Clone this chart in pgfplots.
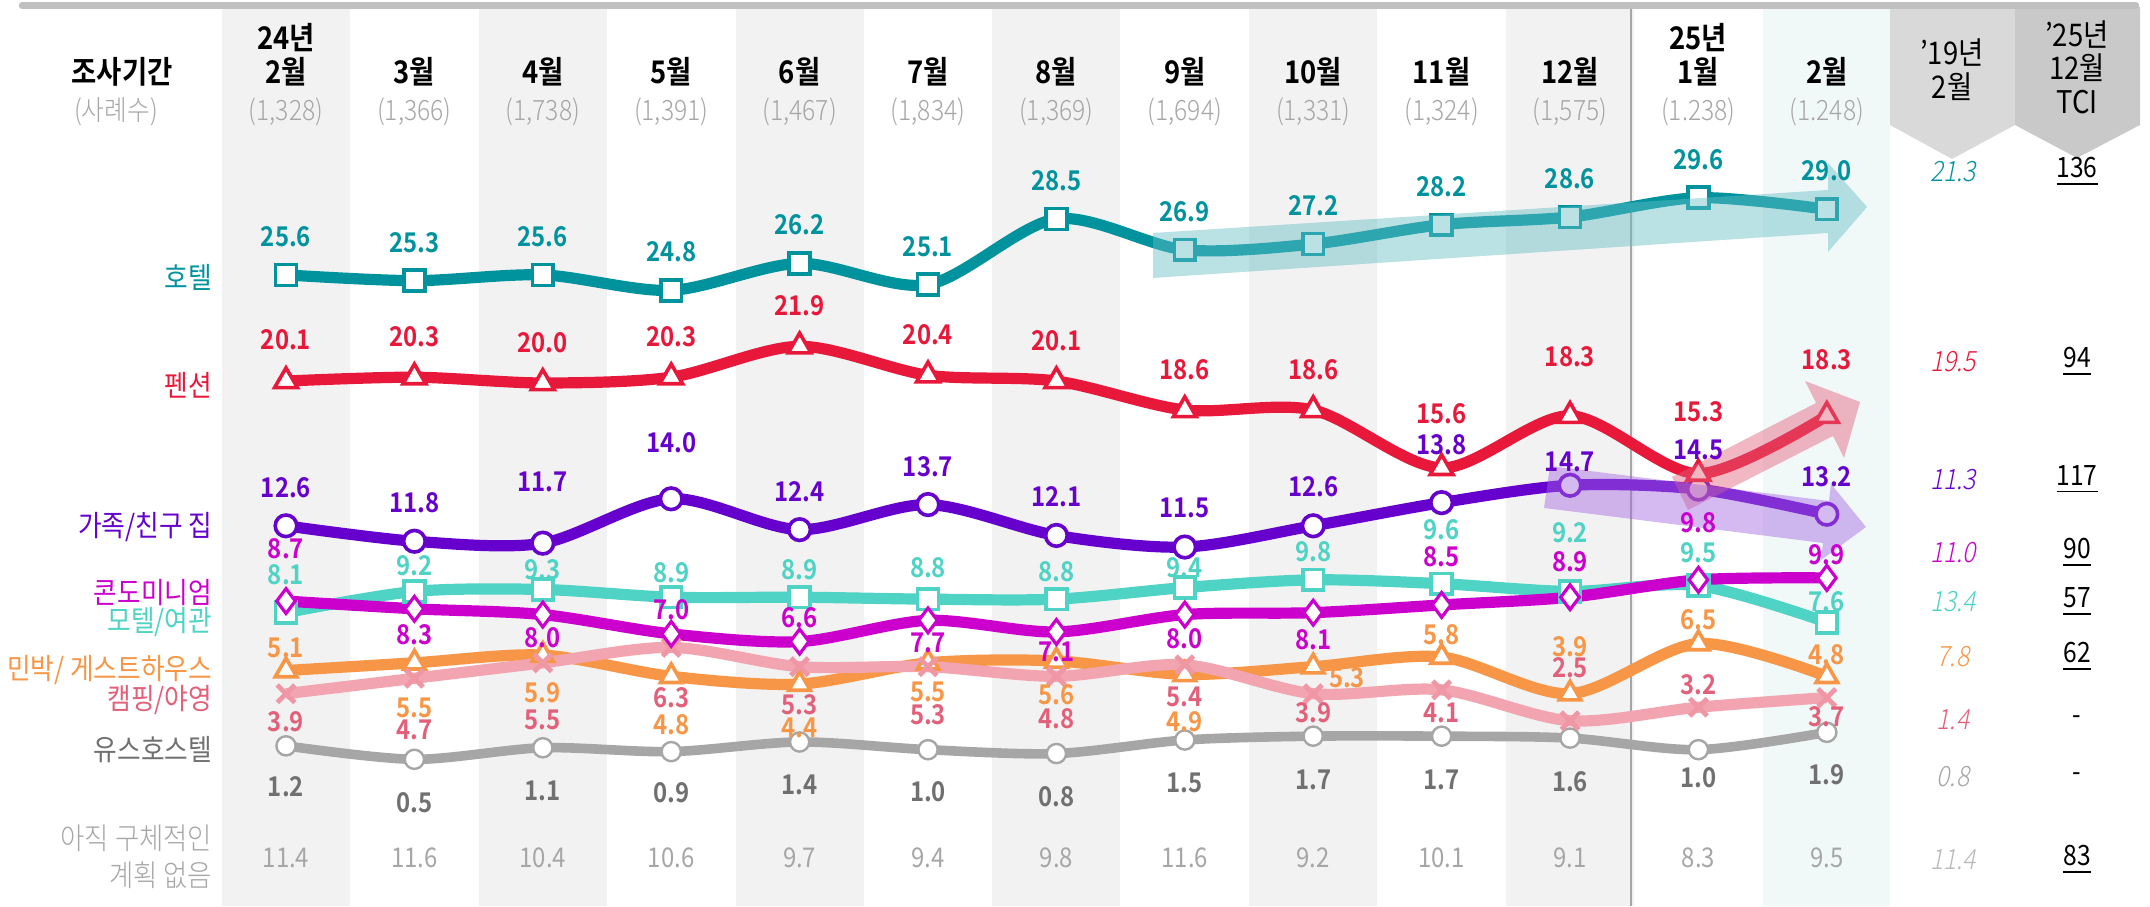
\documentclass[border=0pt]{standalone}
\usepackage{pgfplots}
\pgfplotsset{compat=1.18}
\usepackage{pgfplotstable}
\usepackage{fontspec}
\setmainfont{Noto Sans CJK KR}[FakeStretch=0.88, BoldFont={Noto Sans CJK KR Bold}]
\newfontfamily\itfont{Noto Sans CJK KR}[FakeStretch=0.88, FakeSlant=0.2]
\IfFontExistsTF{Noto Sans CJK KR Light}{%
  \newfontfamily\lightfont{Noto Sans CJK KR Light}[FakeStretch=0.88]%
  \newfontfamily\itlightfont{Noto Sans CJK KR Light}[FakeStretch=0.88, FakeSlant=0.2]}{%
  \IfFontExistsTF{Noto Sans CJK KR DemiLight}{%
    \newfontfamily\lightfont{Noto Sans CJK KR DemiLight}[FakeStretch=0.88]%
    \newfontfamily\itlightfont{Noto Sans CJK KR DemiLight}[FakeStretch=0.88, FakeSlant=0.2]}{%
    \newfontfamily\lightfont{Noto Sans CJK KR}[FakeStretch=0.88]%
    \newfontfamily\itlightfont{Noto Sans CJK KR}[FakeStretch=0.88, FakeSlant=0.2]}}
\definecolor{cHotel}{HTML}{00939E}
\definecolor{cPension}{HTML}{E8183A}
\definecolor{cFamily}{HTML}{6600CC}
\definecolor{cCondo}{HTML}{CC00CC}
\definecolor{cMotel}{HTML}{4FD3C4}
\definecolor{cMinbak}{HTML}{F79646}
\definecolor{cCampL}{HTML}{F2A5B0}
\definecolor{cCampT}{HTML}{E2607A}
\definecolor{cYouthL}{HTML}{A6A6A6}
\definecolor{cYouthT}{HTML}{707070}
\definecolor{cNone}{HTML}{A6A6A6}
\definecolor{cBand}{HTML}{F2F2F2}
\definecolor{cMint}{HTML}{F1F8F8}
\definecolor{cBar}{HTML}{C0C0C0}
\definecolor{cPentA}{HTML}{D9D9D9}
\definecolor{cPentB}{HTML}{C9C9C9}

\pgfplotstableread{
i hotel pension family condo motel minbak camping youth
0 25.6 20.1 12.6 8.7 8.1 5.1 3.9 1.2
1 25.3 20.3 11.8 8.3 9.2 5.5 4.7 0.5
2 25.6 20.0 11.7 8.0 9.3 5.9 5.5 1.1
3 24.8 20.3 14.0 7.0 8.9 4.8 6.3 0.9
4 26.2 21.9 12.4 6.6 8.9 4.4 5.3 1.4
5 25.1 20.4 13.7 7.7 8.8 5.5 5.3 1.0
6 28.5 20.1 12.1 7.1 8.8 5.6 4.8 0.8
7 26.9 18.6 11.5 8.0 9.4 4.9 5.4 1.5
8 27.2 18.6 12.6 8.1 9.8 5.3 3.9 1.7
9 28.2 15.6 13.8 8.5 9.6 5.8 4.1 1.7
10 28.6 18.3 14.7 8.9 9.2 3.9 2.5 1.6
11 29.6 15.3 14.5 9.8 9.5 6.5 3.2 1.0
12 29.0 18.3 13.2 9.9 7.6 4.8 3.7 1.9
}\data

\newcommand\cx[1]{286+128.4*#1}
\newcommand\numfont{\fontsize{6.8}{7}\selectfont\bfseries}

\begin{document}
\begin{tikzpicture}
\begin{scope}[shift={(0,226.5pt)},x=0.25pt,y=-0.25pt]
\fill[white] (0,0) rectangle (2150,906);
\foreach \i in {0,2,4,6,8,10} \fill[cBand] ({\cx{\i}-64},9) rectangle ({\cx{\i}+64},906);
\fill[cMint] ({\cx{12}-64},9) rectangle (1890,906);
\draw[cYouthL, line width=0.5pt] (1631,9) -- (1631,906);
\fill[cPentA] (1890,7) -- (2015,7) -- (2015,125) -- (1952,159) -- (1890,125) -- cycle;
\fill[cPentB] (2015,7) -- (2140,7) -- (2140,125) -- (2077,158) -- (2015,125) -- cycle;
\draw[cBar, line width=1.6pt, line cap=round] (22,5.5) -- (2136,5.5);
\end{scope}

\begin{axis}[at={(0,0)}, anchor=south west, width=537.5pt, height=226.5pt, scale only axis, hide axis,
  xmin=-2.22741, xmax=14.51713, ymin=-7.09845, ymax=39.84456, clip=false]
\addplot[cYouthL, line width=2.4pt, smooth, mark=*, mark size=2.4pt, mark options={fill=white, draw=cYouthL, line width=0.6pt}] table[x=i,y=youth]{\data};
\addplot[cMinbak, line width=2.8pt, smooth, mark=triangle*, mark size=3.1pt, mark options={fill=white, draw=cMinbak, line width=0.9pt}] table[x=i,y=minbak]{\data};
\addplot[cCampL, line width=2.8pt, smooth, mark=x, mark size=3.1pt, mark options={draw=cCampL!80!cCampT, line width=1.2pt}] table[x=i,y=camping]{\data};
\addplot[cMotel, line width=2.8pt, smooth, mark=square*, mark size=2.6pt, mark options={fill=white, draw=cMotel, line width=0.9pt}] table[x=i,y=motel]{\data};
\addplot[cCondo, line width=2.8pt, smooth, mark=diamond*, mark size=3.1pt, mark options={fill=white, draw=cCondo, line width=0.8pt}] table[x=i,y=condo]{\data};
\addplot[cFamily, line width=2.8pt, smooth, mark=*, mark size=2.7pt, mark options={fill=white, draw=cFamily, line width=0.9pt}] table[x=i,y=family]{\data};
\addplot[cPension, line width=2.8pt, smooth, mark=triangle*, mark size=3.3pt, mark options={fill=white, draw=cPension, line width=0.9pt}] table[x=i,y=pension]{\data};
\addplot[cHotel, line width=2.8pt, smooth, mark=square*, mark size=2.6pt, mark options={fill=white, draw=cHotel, line width=0.9pt}] table[x=i,y=hotel]{\data};
\end{axis}

\begin{scope}[shift={(0,226.5pt)},x=0.25pt,y=-0.25pt, every node/.style={inner sep=0pt}]
% trend arrows
\fill[color=cHotel!60!white, opacity=0.45] (1153,233) -- (1828,190) -- (1828,163) -- (1867,207) -- (1828,252) -- (1828,233) -- (1153,278) -- cycle;
\fill[color=cCampT, opacity=0.45] (1672,477) -- (1816,403) -- (1805,381) -- (1860,402) -- (1844,458) -- (1833,436) -- (1688,510) -- cycle;
\fill[color=cFamily!60!white, opacity=0.45] (1550,466) -- (1829,501) -- (1831,484) -- (1866,527) -- (1821,560) -- (1823,543) -- (1544,508) -- cycle;

% header
\node[font=\fontsize{7.8}{8}\selectfont\bfseries] at (122,72) {조사기간};
\node[font=\lightfont\fontsize{7}{8}\selectfont, text=cNone] at (116,112) {(사례수)};
\begin{scope}[every node/.append style={font=\fontsize{7.8}{8}\selectfont\bfseries}]
\node at ({\cx{0}},38) {24년};
\node at ({\cx{0}},72) {2월};
\node at ({\cx{1}},72) {3월};
\node at ({\cx{2}},72) {4월};
\node at ({\cx{3}},72) {5월};
\node at ({\cx{4}},72) {6월};
\node at ({\cx{5}},72) {7월};
\node at ({\cx{6}},72) {8월};
\node at ({\cx{7}},72) {9월};
\node at ({\cx{8}},72) {10월};
\node at ({\cx{9}},72) {11월};
\node at ({\cx{10}},72) {12월};
\node at ({\cx{11}},38) {25년};
\node at ({\cx{11}},72) {1월};
\node at ({\cx{12}},72) {2월};
\end{scope}
\begin{scope}[every node/.append style={font=\lightfont\fontsize{7}{8}\selectfont, text=cNone}]
\node at ({\cx{0}},112) {(1,328)};
\node at ({\cx{1}},112) {(1,366)};
\node at ({\cx{2}},112) {(1,738)};
\node at ({\cx{3}},112) {(1,391)};
\node at ({\cx{4}},112) {(1,467)};
\node at ({\cx{5}},112) {(1,834)};
\node at ({\cx{6}},112) {(1,369)};
\node at ({\cx{7}},112) {(1,694)};
\node at ({\cx{8}},112) {(1,331)};
\node at ({\cx{9}},112) {(1,324)};
\node at ({\cx{10}},112) {(1,575)};
\node at ({\cx{11}},112) {(1.238)};
\node at ({\cx{12}},112) {(1.248)};
\end{scope}
\begin{scope}[every node/.append style={font=\fontsize{7.8}{8}\selectfont}]
\node at (1952,53) {’19년};
\node at (1952,87) {2월};
\node at (2077,35) {’25년};
\node at (2077,68) {12월};
\node at (2077,102) {TCI};
\end{scope}

% left labels
\begin{scope}[every node/.append style={font=\fontsize{7.3}{8}\selectfont, anchor=east}]
\node[text=cHotel] at (213,277) {호텔};
\node[text=cPension] at (213,385) {펜션};
\node[text=cFamily] at (213,527) {가족/친구 집};
\node[text=cCondo] at (213,593) {콘도미니엄};
\node[text=cMotel] at (213,622) {모텔/여관};
\node[text=cMinbak] at (213,670) {민박/ 게스트하우스};
\node[text=cCampT] at (213,700) {캠핑/야영};
\node[text=cYouthT] at (213,750) {유스호스텔};
\node[text=cNone, font=\lightfont\fontsize{7.5}{8}\selectfont] at (213,838) {아직 구체적인};
\node[text=cNone, font=\lightfont\fontsize{7.5}{8}\selectfont] at (213,875) {계획 없음};
\end{scope}

% data labels
\foreach \i/\y/\lbl in {0/237/25.6, 1/243/25.3, 2/237/25.6, 3/252/24.8, 4/225/26.2, 5/247/25.1, 6/181/28.5, 7/212/26.9, 8/206/27.2, 9/187/28.2, 10/179/28.6, 11/160/29.6, 12/171/29.0}
  \node[font=\numfont, text=cHotel] at ({\cx{\i}},\y) {\lbl};
\foreach \i/\y/\lbl in {0/340/20.1, 1/337/20.3, 2/343/20.0, 3/337/20.3, 4/306/21.9, 5/335/20.4, 6/341/20.1, 7/370/18.6, 8/370/18.6, 9/414/15.6, 10/357/18.3, 11/412/15.3, 12/360/18.3}
  \node[font=\numfont, text=cPension] at ({\cx{\i}},\y) {\lbl};
\foreach \i/\y/\lbl in {0/488/12.6, 1/503/11.8, 2/482/11.7, 3/443/14.0, 4/492/12.4, 5/467/13.7, 6/497/12.1, 7/508/11.5, 8/487/12.6, 9/445/13.8, 10/462/14.7, 11/450/14.5, 12/477/13.2}
  \node[font=\numfont, text=cFamily] at ({\cx{\i}},\y) {\lbl};
\foreach \i/\y/\lbl in {0/549/8.7, 1/635/8.3, 2/638/8.0, 3/610/7.0, 4/618/6.6, 5/643/7.7, 6/652/7.1, 7/639/8.0, 8/640/8.1, 9/557/8.5, 10/562/8.9, 11/523/9.8, 12/555/9.9}
  \node[font=\numfont, text=cCondo] at ({\cx{\i}},\y) {\lbl};
\foreach \i/\y/\lbl in {0/575/8.1, 1/566/9.2, 2/570/9.3, 3/573/8.9, 4/570/8.9, 5/568/8.8, 6/572/8.8, 7/568/9.4, 8/552/9.8, 9/530/9.6, 10/533/9.2, 11/553/9.5, 12/602/7.6}
  \node[font=\numfont, text=cMotel] at ({\cx{\i}},\y) {\lbl};
\foreach \i/\y/\lbl in {0/648/5.1, 1/708/5.5, 2/693/5.9, 3/725/4.8, 4/728/4.4, 5/692/5.5, 6/695/5.6, 7/722/4.9, 9/635/5.8, 10/647/3.9, 11/620/6.5, 12/655/4.8}
  \node[font=\numfont, text=cMinbak] at ({\cx{\i}},\y) {\lbl};
\node[font=\numfont, text=cMinbak] at (1347,678) {5.3};
\foreach \i/\y/\lbl in {0/722/3.9, 1/730/4.7, 2/720/5.5, 3/698/6.3, 4/705/5.3, 5/715/5.3, 6/719/4.8, 7/697/5.4, 8/713/3.9, 9/713/4.1, 10/668/2.5, 11/685/3.2, 12/717/3.7}
  \node[font=\numfont, text=cCampT] at ({\cx{\i}},\y) {\lbl};
\foreach \i/\y/\lbl in {0/787/1.2, 1/803/0.5, 2/791/1.1, 3/793/0.9, 4/785/1.4, 5/792/1.0, 6/797/0.8, 7/783/1.5, 8/780/1.7, 9/780/1.7, 10/782/1.6, 11/778/1.0, 12/775/1.9}
  \node[font=\numfont, text=cYouthT] at ({\cx{\i}},\y) {\lbl};
\foreach \i/\lbl in {0/11.4, 1/11.6, 2/10.4, 3/10.6, 4/9.7, 5/9.4, 6/9.8, 7/11.6, 8/9.2, 9/10.1, 10/9.1, 11/8.3, 12/9.5}
  \node[font=\fontsize{6.8}{7}\selectfont, text=cNone] at ({\cx{\i}},858) {\lbl};

% right columns
\begin{scope}[every node/.append style={font=\itlightfont\fontsize{7}{8}\selectfont}]
\node[text=cHotel] at (1953,172) {21.3};
\node[text=cPension] at (1953,362) {19.5};
\node[text=cFamily] at (1953,480) {11.3};
\node[text=cCondo] at (1953,553) {11.0};
\node[text=cMotel] at (1953,602) {13.4};
\node[text=cMinbak] at (1953,657) {7.8};
\node[text=cCampT] at (1953,720) {1.4};
\node[text=cYouthL] at (1953,777) {0.8};
\node[text=cNone!80!white] at (1953,860) {11.4};
\end{scope}
\begin{scope}[every node/.append style={font=\fontsize{7}{8}\selectfont}]
\node at (2077,172) {\underline{136}};
\node at (2077,362) {\underline{94}};
\node at (2077,480) {\underline{117}};
\node at (2077,553) {\underline{90}};
\node at (2077,602) {\underline{57}};
\node at (2077,657) {\underline{62}};
\node at (2077,720) {-};
\node at (2077,777) {-};
\node at (2077,860) {\underline{83}};
\end{scope}
\end{scope}
\end{tikzpicture}
\end{document}
